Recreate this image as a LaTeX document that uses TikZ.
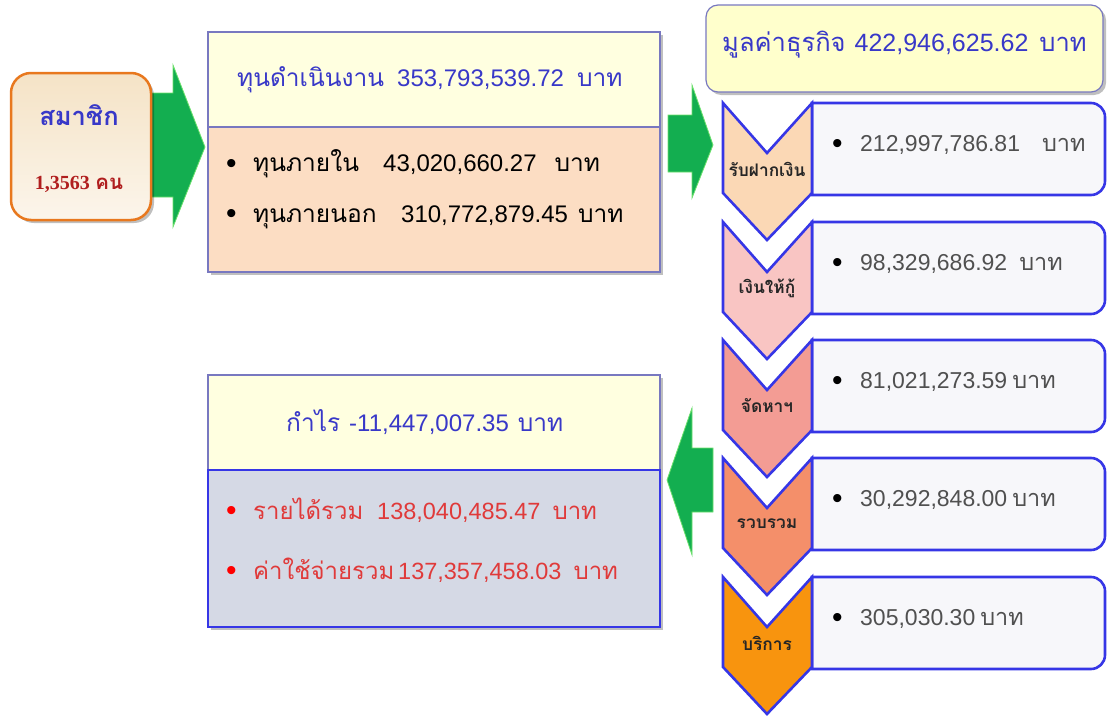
\documentclass[tikz,border=0pt]{standalone}
\usepackage{fontspec}
\setmainfont{Liberation Sans}
\newfontfamily\thai[Script=Thai,Scale=1.02]{Loma}
\newfontfamily\serifd{Liberation Serif}
\usetikzlibrary{shadows}
\definecolor{arrgreen}{HTML}{13AE50}
\definecolor{arredge}{HTML}{6BE06B}
\definecolor{titleblue}{HTML}{3838C8}
\definecolor{hdrfill}{HTML}{FFFFE0}
\definecolor{bizfill}{HTML}{FFFFCC}
\definecolor{hdredge}{HTML}{7878C0}
\definecolor{peach}{HTML}{FCDDC3}
\definecolor{grayblue}{HTML}{D5D9E5}
\definecolor{vivblue}{HTML}{3636E6}
\definecolor{valfill}{HTML}{F7F7FA}
\definecolor{valtext}{HTML}{505050}
\definecolor{redtext}{HTML}{E03A3A}
\definecolor{memedge}{HTML}{E8781E}
\definecolor{memred}{HTML}{B01E1E}
\definecolor{memfill}{HTML}{F5E3C6}
\definecolor{chA}{HTML}{FBD8B5}
\definecolor{chB}{HTML}{F9C5C3}
\definecolor{chC}{HTML}{F39C94}
\definecolor{chD}{HTML}{F48F6A}
\definecolor{chE}{HTML}{F8940E}
\newcommand\bigdot[1]{\raisebox{-1.5pt}{\textcolor{#1}{\fontsize{30}{30}\selectfont\textbullet}}}
\tikzset{
  bigarrow/.style={fill=arrgreen, draw=arredge, line width=0.8pt},
  shadowed/.style={drop shadow={shadow xshift=3pt, shadow yshift=-3pt, fill=black, opacity=0.25}},
  hdrbox/.style={fill=hdrfill, draw=hdredge, line width=1.2pt},
  valbox/.style={fill=valfill, draw=vivblue, line width=2.6pt},
  chevbox/.style={draw=vivblue, line width=2.6pt, line join=miter},
  chevlabel/.style={font=\thai\bfseries\fontsize{17}{19}\selectfont, text=black!85},
  rowtxt/.style={anchor=west, inner sep=0pt},
  valtxt/.style={rowtxt, font=\fontsize{23}{26}\selectfont, text=valtext},
  ttl/.style={rowtxt, font=\fontsize{24}{28}\selectfont, text=titleblue},
}
\begin{document}
\begin{tikzpicture}[x=1pt,y=-1pt]
\useasboundingbox (0,0) rectangle (1117,720);
% green arrows
\path[bigarrow] (150,93) -- (173,93) -- (173,65) -- (205,147) -- (173,227) -- (173,197) -- (150,197) -- cycle;
\path[bigarrow] (668,115) -- (692,115) -- (692,85) -- (713,145) -- (692,198) -- (692,172) -- (668,172) -- cycle;
\path[bigarrow] (713,448) -- (692,448) -- (692,408) -- (667,480) -- (692,555) -- (692,512) -- (713,512) -- cycle;
% member box
\node[draw=memedge, line width=2.5pt, rounded corners=20pt, minimum width=140pt, minimum height=147pt,
      top color=memfill, bottom color=memfill!35!white, shadowed] (mem) at (81,146.5) {};
\node[font=\thai\bfseries\fontsize{25}{28}\selectfont, text=titleblue] (memt) at (79,115) {สมาชิก};
\node[font=\bfseries\fontsize{20}{24}\selectfont, text=memred] (memn) at (79,184) {{\serifd 1,3563} {\thai คน}};
% working capital box
\path[hdrbox, shadowed] (208,32) rectangle (660,272);
\path[hdrbox] (208,32) rectangle (660,127);
\path[fill=peach, draw=hdredge, line width=1.2pt] (208,127) rectangle (660,272);
\node[ttl] (cap) at (237,80) {\makebox[160pt][l]{\thai ทุนดำเนินงาน}353,793,539.72\hspace{13pt}{\thai บาท}};
\node[rowtxt, font=\fontsize{24}{28}\selectfont, text=black] (capin) at (226,164)
  {\makebox[27pt][l]{\bigdot{black}}\makebox[130pt][l]{\thai ทุนภายใน}43,020,660.27\hspace{18pt}{\thai บาท}};
\node[rowtxt, font=\fontsize{24}{28}\selectfont, text=black] (capout) at (226,217)
  {\makebox[27pt][l]{\bigdot{black}}\makebox[148pt][l]{\thai ทุนภายนอก}310,772,879.45\hspace{10pt}{\thai บาท}};
% profit box
\path[hdrbox, shadowed] (208,375) rectangle (660,627);
\path[hdrbox] (208,375) rectangle (660,470);
\path[fill=grayblue, draw=vivblue, line width=2pt] (208,470) rectangle (660,627);
\node[ttl] (prof) at (286,422) {\makebox[63pt][l]{\thai กำไร}-11,447,007.35\hspace{9pt}{\thai บาท}};
\node[rowtxt, font=\fontsize{23.5}{27}\selectfont, text=redtext] (inc) at (226,510)
  {\makebox[27pt][l]{\bigdot{red}}\makebox[124pt][l]{\thai รายได้รวม}138,040,485.47\hspace{12pt}{\thai บาท}};
\node[rowtxt, font=\fontsize{23.5}{27}\selectfont, text=redtext] (exp) at (226,570)
  {\makebox[27pt][l]{\bigdot{red}}\makebox[145pt][l]{\thai ค่าใช้จ่ายรวม}137,357,458.03\hspace{12pt}{\thai บาท}};
% business value header
\node[draw=hdredge, line width=1.2pt, fill=bizfill, rounded corners=12pt,
      minimum width=397pt, minimum height=87pt, shadowed] (biz) at (904.5,48.5) {};
\node[ttl, font=\fontsize{25}{29}\selectfont] (bizt) at (722,45) {{\thai มูลค่าธุรกิจ}\hspace{9pt}422,946,625.62\hspace{11pt}{\thai บาท}};
% chevrons and value boxes
\foreach \y/\c/\lab/\val/\n in {
   103/chA/รับฝากเงิน/{212,997,786.81\hspace{22pt}}/1,
   222/chB/เงินให้กู้/{98,329,686.92\hspace{12pt}}/2,
   340/chC/จัดหาฯ/{81,021,273.59\hspace{5pt}}/3,
   458/chD/รวบรวม/{30,292,848.00\hspace{5pt}}/4,
   577/chE/บริการ/{305,030.30\hspace{5pt}}/5}{
  \path[valbox] (812,\y) -- (1091,\y) arc[start angle=-90, end angle=0, radius=14]
     -- (1105,\y+78) arc[start angle=0, end angle=90, radius=14] -- (812,\y+92) -- cycle;
  \path[chevbox, fill=\c] (723,\y) -- (767,\y+50) -- (812,\y) -- (812,\y+90) -- (767,\y+137) -- (723,\y+90) -- cycle;
  \node[chevlabel] (lab\n) at (767,\y+66) {\lab};
  \node[valtxt] (val\n) at (832,\y+42) {\makebox[28pt][l]{\bigdot{black}}\val{\thai บาท}};
}
\end{tikzpicture}
\end{document}
